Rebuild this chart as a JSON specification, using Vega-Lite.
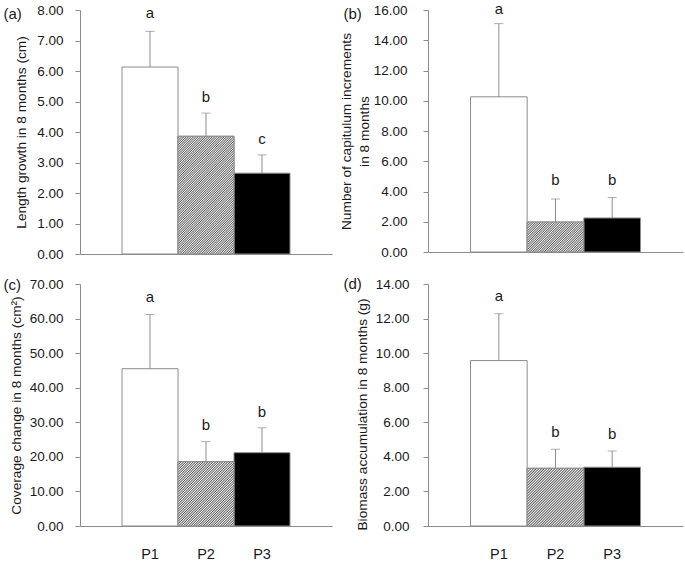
{
 "$schema": "https://vega.github.io/schema/vega-lite/v6.json",
 "padding": {"left": 3, "top": 2, "right": 3, "bottom": 1},
 "config": {
  "font": "Liberation Sans",
  "view": {"stroke": null},
  "axis": {"domainColor": "#8c8c8c", "tickColor": "#8c8c8c", "labelColor": "#1a1a1a", "titleColor": "#1a1a1a", "labelFontSize": 13.5, "titleFontSize": 13.7, "titleFontWeight": "normal", "grid": false, "labelFont": "Liberation Sans", "titleFont": "Liberation Sans"},
  "axisX": {"titleAngle": 0, "titleAlign": "left", "titleBaseline": "middle", "titleFontSize": 15},
  "text": {"font": "Liberation Sans"}
 },
 "columns": 2,
 "spacing": {"row": 15, "column": 7},
 "concat": [
  {
   "width": 252, "height": 244,
   "data": {"values": [
    {"g": "P1", "m": 6.13, "u": 7.30, "lt": "a", "ly": 7.9},
    {"g": "P2", "m": 3.86, "u": 4.62, "lt": "b", "ly": 5.15},
    {"g": "P3", "m": 2.65, "u": 3.25, "lt": "c", "ly": 3.78}
   ]},
   "encoding": {"x": {"field": "g", "type": "nominal", "scale": {"paddingInner": 0, "paddingOuter": 0.75}, "axis": {"labels": false, "ticks": false, "title": "(a)", "titleX": -77, "titleY": -241}}},
   "layer": [
    {"mark": {"type": "bar", "stroke": "#8c8c8c", "strokeWidth": 1},
     "encoding": {"y": {"field": "m", "type": "quantitative", "scale": {"domain": [0, 8]}, "axis": {"title": "Length growth in 8 months (cm)", "format": ".2f", "tickCount": 8, "tickSize": 5, "labelPadding": 12, "titlePadding": 8}},
      "fill": {"field": "g", "type": "nominal", "scale": {"range": ["#ffffff", "#ffffff", "#000000"]}, "legend": null}}},
    {"transform": [{"filter": "datum.g === 'P2'"}],
     "mark": {"type": "bar", "stroke": "#8c8c8c", "strokeWidth": 1, "fill": {"gradient": "linear", "x1": 0, "y1": 0, "x2": 0.573, "y2": 1.203, "stops": [
      {"offset":0,"color":"#555"},{"offset":0.005,"color":"#fff"},{"offset":0.01,"color":"#555"},{"offset":0.015,"color":"#fff"},{"offset":0.02,"color":"#555"},{"offset":0.025,"color":"#fff"},{"offset":0.03,"color":"#555"},{"offset":0.035,"color":"#fff"},{"offset":0.04,"color":"#555"},{"offset":0.045,"color":"#fff"},
      {"offset":0.05,"color":"#555"},{"offset":0.055,"color":"#fff"},{"offset":0.06,"color":"#555"},{"offset":0.065,"color":"#fff"},{"offset":0.07,"color":"#555"},{"offset":0.075,"color":"#fff"},{"offset":0.08,"color":"#555"},{"offset":0.085,"color":"#fff"},{"offset":0.09,"color":"#555"},{"offset":0.095,"color":"#fff"},
      {"offset":0.1,"color":"#555"},{"offset":0.105,"color":"#fff"},{"offset":0.11,"color":"#555"},{"offset":0.115,"color":"#fff"},{"offset":0.12,"color":"#555"},{"offset":0.125,"color":"#fff"},{"offset":0.13,"color":"#555"},{"offset":0.135,"color":"#fff"},{"offset":0.14,"color":"#555"},{"offset":0.145,"color":"#fff"},
      {"offset":0.15,"color":"#555"},{"offset":0.155,"color":"#fff"},{"offset":0.16,"color":"#555"},{"offset":0.165,"color":"#fff"},{"offset":0.17,"color":"#555"},{"offset":0.175,"color":"#fff"},{"offset":0.18,"color":"#555"},{"offset":0.185,"color":"#fff"},{"offset":0.19,"color":"#555"},{"offset":0.195,"color":"#fff"},
      {"offset":0.2,"color":"#555"},{"offset":0.205,"color":"#fff"},{"offset":0.21,"color":"#555"},{"offset":0.215,"color":"#fff"},{"offset":0.22,"color":"#555"},{"offset":0.225,"color":"#fff"},{"offset":0.23,"color":"#555"},{"offset":0.235,"color":"#fff"},{"offset":0.24,"color":"#555"},{"offset":0.245,"color":"#fff"},
      {"offset":0.25,"color":"#555"},{"offset":0.255,"color":"#fff"},{"offset":0.26,"color":"#555"},{"offset":0.265,"color":"#fff"},{"offset":0.27,"color":"#555"},{"offset":0.275,"color":"#fff"},{"offset":0.28,"color":"#555"},{"offset":0.285,"color":"#fff"},{"offset":0.29,"color":"#555"},{"offset":0.295,"color":"#fff"},
      {"offset":0.3,"color":"#555"},{"offset":0.305,"color":"#fff"},{"offset":0.31,"color":"#555"},{"offset":0.315,"color":"#fff"},{"offset":0.32,"color":"#555"},{"offset":0.325,"color":"#fff"},{"offset":0.33,"color":"#555"},{"offset":0.335,"color":"#fff"},{"offset":0.34,"color":"#555"},{"offset":0.345,"color":"#fff"},
      {"offset":0.35,"color":"#555"},{"offset":0.355,"color":"#fff"},{"offset":0.36,"color":"#555"},{"offset":0.365,"color":"#fff"},{"offset":0.37,"color":"#555"},{"offset":0.375,"color":"#fff"},{"offset":0.38,"color":"#555"},{"offset":0.385,"color":"#fff"},{"offset":0.39,"color":"#555"},{"offset":0.395,"color":"#fff"},
      {"offset":0.4,"color":"#555"},{"offset":0.405,"color":"#fff"},{"offset":0.41,"color":"#555"},{"offset":0.415,"color":"#fff"},{"offset":0.42,"color":"#555"},{"offset":0.425,"color":"#fff"},{"offset":0.43,"color":"#555"},{"offset":0.435,"color":"#fff"},{"offset":0.44,"color":"#555"},{"offset":0.445,"color":"#fff"},
      {"offset":0.45,"color":"#555"},{"offset":0.455,"color":"#fff"},{"offset":0.46,"color":"#555"},{"offset":0.465,"color":"#fff"},{"offset":0.47,"color":"#555"},{"offset":0.475,"color":"#fff"},{"offset":0.48,"color":"#555"},{"offset":0.485,"color":"#fff"},{"offset":0.49,"color":"#555"},{"offset":0.495,"color":"#fff"},
      {"offset":0.5,"color":"#555"},{"offset":0.505,"color":"#fff"},{"offset":0.51,"color":"#555"},{"offset":0.515,"color":"#fff"},{"offset":0.52,"color":"#555"},{"offset":0.525,"color":"#fff"},{"offset":0.53,"color":"#555"},{"offset":0.535,"color":"#fff"},{"offset":0.54,"color":"#555"},{"offset":0.545,"color":"#fff"},
      {"offset":0.55,"color":"#555"},{"offset":0.555,"color":"#fff"},{"offset":0.56,"color":"#555"},{"offset":0.565,"color":"#fff"},{"offset":0.57,"color":"#555"},{"offset":0.575,"color":"#fff"},{"offset":0.58,"color":"#555"},{"offset":0.585,"color":"#fff"},{"offset":0.59,"color":"#555"},{"offset":0.595,"color":"#fff"},
      {"offset":0.6,"color":"#555"},{"offset":0.605,"color":"#fff"},{"offset":0.61,"color":"#555"},{"offset":0.615,"color":"#fff"},{"offset":0.62,"color":"#555"},{"offset":0.625,"color":"#fff"},{"offset":0.63,"color":"#555"},{"offset":0.635,"color":"#fff"},{"offset":0.64,"color":"#555"},{"offset":0.645,"color":"#fff"},
      {"offset":0.65,"color":"#555"},{"offset":0.655,"color":"#fff"},{"offset":0.66,"color":"#555"},{"offset":0.665,"color":"#fff"},{"offset":0.67,"color":"#555"},{"offset":0.675,"color":"#fff"},{"offset":0.68,"color":"#555"},{"offset":0.685,"color":"#fff"},{"offset":0.69,"color":"#555"},{"offset":0.695,"color":"#fff"},
      {"offset":0.7,"color":"#555"},{"offset":0.705,"color":"#fff"},{"offset":0.71,"color":"#555"},{"offset":0.715,"color":"#fff"},{"offset":0.72,"color":"#555"},{"offset":0.725,"color":"#fff"},{"offset":0.73,"color":"#555"},{"offset":0.735,"color":"#fff"},{"offset":0.74,"color":"#555"},{"offset":0.745,"color":"#fff"},
      {"offset":0.75,"color":"#555"},{"offset":0.755,"color":"#fff"},{"offset":0.76,"color":"#555"},{"offset":0.765,"color":"#fff"},{"offset":0.77,"color":"#555"},{"offset":0.775,"color":"#fff"},{"offset":0.78,"color":"#555"},{"offset":0.785,"color":"#fff"},{"offset":0.79,"color":"#555"},{"offset":0.795,"color":"#fff"},
      {"offset":0.8,"color":"#555"},{"offset":0.805,"color":"#fff"},{"offset":0.81,"color":"#555"},{"offset":0.815,"color":"#fff"},{"offset":0.82,"color":"#555"},{"offset":0.825,"color":"#fff"},{"offset":0.83,"color":"#555"},{"offset":0.835,"color":"#fff"},{"offset":0.84,"color":"#555"},{"offset":0.845,"color":"#fff"},
      {"offset":0.85,"color":"#555"},{"offset":0.855,"color":"#fff"},{"offset":0.86,"color":"#555"},{"offset":0.865,"color":"#fff"},{"offset":0.87,"color":"#555"},{"offset":0.875,"color":"#fff"},{"offset":0.88,"color":"#555"},{"offset":0.885,"color":"#fff"},{"offset":0.89,"color":"#555"},{"offset":0.895,"color":"#fff"},
      {"offset":0.9,"color":"#555"},{"offset":0.905,"color":"#fff"},{"offset":0.91,"color":"#555"},{"offset":0.915,"color":"#fff"},{"offset":0.92,"color":"#555"},{"offset":0.925,"color":"#fff"},{"offset":0.93,"color":"#555"},{"offset":0.935,"color":"#fff"},{"offset":0.94,"color":"#555"},{"offset":0.945,"color":"#fff"},
      {"offset":0.95,"color":"#555"},{"offset":0.955,"color":"#fff"},{"offset":0.96,"color":"#555"},{"offset":0.965,"color":"#fff"},{"offset":0.97,"color":"#555"},{"offset":0.975,"color":"#fff"},{"offset":0.98,"color":"#555"},{"offset":0.985,"color":"#fff"},{"offset":0.99,"color":"#555"},{"offset":0.995,"color":"#fff"},{"offset":1,"color":"#555"}
     ]}},
     "encoding": {"y": {"field": "m", "type": "quantitative"}}},
    {"mark": {"type": "rule", "color": "#8c8c8c"}, "encoding": {"y": {"field": "m", "type": "quantitative"}, "y2": {"field": "u"}}},
    {"mark": {"type": "tick", "color": "#8c8c8c", "size": 9, "thickness": 1}, "encoding": {"y": {"field": "u", "type": "quantitative"}}},
    {"mark": {"type": "text", "fontSize": 15, "baseline": "middle", "color": "#1a1a1a"}, "encoding": {"y": {"field": "ly", "type": "quantitative"}, "text": {"field": "lt"}}}
   ]
  },
  {
   "width": 255, "height": 242,
   "data": {"values": [
    {"g": "P1", "m": 10.26, "u": 15.10, "lt": "a", "ly": 16.06},
    {"g": "P2", "m": 1.98, "u": 3.50, "lt": "b", "ly": 4.74},
    {"g": "P3", "m": 2.25, "u": 3.60, "lt": "b", "ly": 4.74}
   ]},
   "encoding": {"x": {"field": "g", "type": "nominal", "scale": {"paddingInner": 0, "paddingOuter": 0.75}, "axis": {"labels": false, "ticks": false, "title": "(b)", "titleX": -85, "titleY": -239}}},
   "layer": [
    {"mark": {"type": "bar", "stroke": "#8c8c8c", "strokeWidth": 1},
     "encoding": {"y": {"field": "m", "type": "quantitative", "scale": {"domain": [0, 16]}, "axis": {"title": ["Number of capitulum increments", "in 8 months"], "titleLineHeight": 18, "format": ".2f", "tickCount": 8, "tickSize": 5, "labelPadding": 16, "titlePadding": 2}},
      "fill": {"field": "g", "type": "nominal", "scale": {"range": ["#ffffff", "#ffffff", "#000000"]}, "legend": null}}},
    {"transform": [{"filter": "datum.g === 'P2'"}],
     "mark": {"type": "bar", "stroke": "#8c8c8c", "strokeWidth": 1, "fill": {"gradient": "linear", "x1": 0, "y1": 0, "x2": 1.195, "y2": 0.63, "stops": [
      {"offset":0,"color":"#555"},{"offset":0.01,"color":"#fff"},{"offset":0.02,"color":"#555"},{"offset":0.03,"color":"#fff"},{"offset":0.04,"color":"#555"},{"offset":0.05,"color":"#fff"},{"offset":0.06,"color":"#555"},{"offset":0.07,"color":"#fff"},{"offset":0.08,"color":"#555"},{"offset":0.09,"color":"#fff"},
      {"offset":0.1,"color":"#555"},{"offset":0.11,"color":"#fff"},{"offset":0.12,"color":"#555"},{"offset":0.13,"color":"#fff"},{"offset":0.14,"color":"#555"},{"offset":0.15,"color":"#fff"},{"offset":0.16,"color":"#555"},{"offset":0.17,"color":"#fff"},{"offset":0.18,"color":"#555"},{"offset":0.19,"color":"#fff"},
      {"offset":0.2,"color":"#555"},{"offset":0.21,"color":"#fff"},{"offset":0.22,"color":"#555"},{"offset":0.23,"color":"#fff"},{"offset":0.24,"color":"#555"},{"offset":0.25,"color":"#fff"},{"offset":0.26,"color":"#555"},{"offset":0.27,"color":"#fff"},{"offset":0.28,"color":"#555"},{"offset":0.29,"color":"#fff"},
      {"offset":0.3,"color":"#555"},{"offset":0.31,"color":"#fff"},{"offset":0.32,"color":"#555"},{"offset":0.33,"color":"#fff"},{"offset":0.34,"color":"#555"},{"offset":0.35,"color":"#fff"},{"offset":0.36,"color":"#555"},{"offset":0.37,"color":"#fff"},{"offset":0.38,"color":"#555"},{"offset":0.39,"color":"#fff"},
      {"offset":0.4,"color":"#555"},{"offset":0.41,"color":"#fff"},{"offset":0.42,"color":"#555"},{"offset":0.43,"color":"#fff"},{"offset":0.44,"color":"#555"},{"offset":0.45,"color":"#fff"},{"offset":0.46,"color":"#555"},{"offset":0.47,"color":"#fff"},{"offset":0.48,"color":"#555"},{"offset":0.49,"color":"#fff"},
      {"offset":0.5,"color":"#555"},{"offset":0.51,"color":"#fff"},{"offset":0.52,"color":"#555"},{"offset":0.53,"color":"#fff"},{"offset":0.54,"color":"#555"},{"offset":0.55,"color":"#fff"},{"offset":0.56,"color":"#555"},{"offset":0.57,"color":"#fff"},{"offset":0.58,"color":"#555"},{"offset":0.59,"color":"#fff"},
      {"offset":0.6,"color":"#555"},{"offset":0.61,"color":"#fff"},{"offset":0.62,"color":"#555"},{"offset":0.63,"color":"#fff"},{"offset":0.64,"color":"#555"},{"offset":0.65,"color":"#fff"},{"offset":0.66,"color":"#555"},{"offset":0.67,"color":"#fff"},{"offset":0.68,"color":"#555"},{"offset":0.69,"color":"#fff"},
      {"offset":0.7,"color":"#555"},{"offset":0.71,"color":"#fff"},{"offset":0.72,"color":"#555"},{"offset":0.73,"color":"#fff"},{"offset":0.74,"color":"#555"},{"offset":0.75,"color":"#fff"},{"offset":0.76,"color":"#555"},{"offset":0.77,"color":"#fff"},{"offset":0.78,"color":"#555"},{"offset":0.79,"color":"#fff"},
      {"offset":0.8,"color":"#555"},{"offset":0.81,"color":"#fff"},{"offset":0.82,"color":"#555"},{"offset":0.83,"color":"#fff"},{"offset":0.84,"color":"#555"},{"offset":0.85,"color":"#fff"},{"offset":0.86,"color":"#555"},{"offset":0.87,"color":"#fff"},{"offset":0.88,"color":"#555"},{"offset":0.89,"color":"#fff"},
      {"offset":0.9,"color":"#555"},{"offset":0.91,"color":"#fff"},{"offset":0.92,"color":"#555"},{"offset":0.93,"color":"#fff"},{"offset":0.94,"color":"#555"},{"offset":0.95,"color":"#fff"},{"offset":0.96,"color":"#555"},{"offset":0.97,"color":"#fff"},{"offset":0.98,"color":"#555"},{"offset":0.99,"color":"#fff"},{"offset":1,"color":"#555"}
     ]}},
     "encoding": {"y": {"field": "m", "type": "quantitative"}}},
    {"mark": {"type": "rule", "color": "#8c8c8c"}, "encoding": {"y": {"field": "m", "type": "quantitative"}, "y2": {"field": "u"}}},
    {"mark": {"type": "tick", "color": "#8c8c8c", "size": 9, "thickness": 1}, "encoding": {"y": {"field": "u", "type": "quantitative"}}},
    {"mark": {"type": "text", "fontSize": 15, "baseline": "middle", "color": "#1a1a1a"}, "encoding": {"y": {"field": "ly", "type": "quantitative"}, "text": {"field": "lt"}}}
   ]
  },
  {
   "width": 252, "height": 242,
   "data": {"values": [
    {"g": "P1", "m": 45.5, "u": 61.2, "lt": "a", "ly": 66.3},
    {"g": "P2", "m": 18.6, "u": 24.4, "lt": "b", "ly": 29.2},
    {"g": "P3", "m": 21.2, "u": 28.4, "lt": "b", "ly": 33.0}
   ]},
   "encoding": {"x": {"field": "g", "type": "nominal", "scale": {"paddingInner": 0, "paddingOuter": 0.75}, "axis": {"labels": true, "ticks": false, "labelAngle": 0, "labelFontSize": 14.5, "labelPadding": 21, "title": "(c)", "titleX": -77, "titleY": -242}}},
   "layer": [
    {"mark": {"type": "bar", "stroke": "#8c8c8c", "strokeWidth": 1},
     "encoding": {"y": {"field": "m", "type": "quantitative", "scale": {"domain": [0, 70]}, "axis": {"title": "Coverage change in 8 months (cm²)", "format": ".2f", "tickCount": 7, "tickSize": 5, "labelPadding": 12, "titlePadding": 6}},
      "fill": {"field": "g", "type": "nominal", "scale": {"range": ["#ffffff", "#ffffff", "#000000"]}, "legend": null}}},
    {"transform": [{"filter": "datum.g === 'P2'"}],
     "mark": {"type": "bar", "stroke": "#8c8c8c", "strokeWidth": 1, "fill": {"gradient": "linear", "x1": 0, "y1": 0, "x2": 0.927, "y2": 1.064, "stops": [
      {"offset":0,"color":"#555"},{"offset":0.007,"color":"#fff"},{"offset":0.014,"color":"#555"},{"offset":0.021,"color":"#fff"},{"offset":0.028,"color":"#555"},{"offset":0.035,"color":"#fff"},{"offset":0.042,"color":"#555"},{"offset":0.049,"color":"#fff"},{"offset":0.056,"color":"#555"},{"offset":0.063,"color":"#fff"},
      {"offset":0.07,"color":"#555"},{"offset":0.077,"color":"#fff"},{"offset":0.084,"color":"#555"},{"offset":0.091,"color":"#fff"},{"offset":0.098,"color":"#555"},{"offset":0.105,"color":"#fff"},{"offset":0.112,"color":"#555"},{"offset":0.119,"color":"#fff"},{"offset":0.126,"color":"#555"},{"offset":0.133,"color":"#fff"},
      {"offset":0.14,"color":"#555"},{"offset":0.147,"color":"#fff"},{"offset":0.154,"color":"#555"},{"offset":0.161,"color":"#fff"},{"offset":0.168,"color":"#555"},{"offset":0.175,"color":"#fff"},{"offset":0.182,"color":"#555"},{"offset":0.189,"color":"#fff"},{"offset":0.196,"color":"#555"},{"offset":0.203,"color":"#fff"},
      {"offset":0.21,"color":"#555"},{"offset":0.217,"color":"#fff"},{"offset":0.224,"color":"#555"},{"offset":0.231,"color":"#fff"},{"offset":0.238,"color":"#555"},{"offset":0.245,"color":"#fff"},{"offset":0.252,"color":"#555"},{"offset":0.259,"color":"#fff"},{"offset":0.266,"color":"#555"},{"offset":0.273,"color":"#fff"},
      {"offset":0.28,"color":"#555"},{"offset":0.287,"color":"#fff"},{"offset":0.294,"color":"#555"},{"offset":0.301,"color":"#fff"},{"offset":0.308,"color":"#555"},{"offset":0.315,"color":"#fff"},{"offset":0.322,"color":"#555"},{"offset":0.329,"color":"#fff"},{"offset":0.336,"color":"#555"},{"offset":0.343,"color":"#fff"},
      {"offset":0.35,"color":"#555"},{"offset":0.357,"color":"#fff"},{"offset":0.364,"color":"#555"},{"offset":0.371,"color":"#fff"},{"offset":0.378,"color":"#555"},{"offset":0.385,"color":"#fff"},{"offset":0.392,"color":"#555"},{"offset":0.399,"color":"#fff"},{"offset":0.406,"color":"#555"},{"offset":0.413,"color":"#fff"},
      {"offset":0.42,"color":"#555"},{"offset":0.427,"color":"#fff"},{"offset":0.434,"color":"#555"},{"offset":0.441,"color":"#fff"},{"offset":0.448,"color":"#555"},{"offset":0.455,"color":"#fff"},{"offset":0.462,"color":"#555"},{"offset":0.469,"color":"#fff"},{"offset":0.476,"color":"#555"},{"offset":0.483,"color":"#fff"},
      {"offset":0.49,"color":"#555"},{"offset":0.497,"color":"#fff"},{"offset":0.504,"color":"#555"},{"offset":0.511,"color":"#fff"},{"offset":0.518,"color":"#555"},{"offset":0.525,"color":"#fff"},{"offset":0.532,"color":"#555"},{"offset":0.539,"color":"#fff"},{"offset":0.546,"color":"#555"},{"offset":0.553,"color":"#fff"},
      {"offset":0.56,"color":"#555"},{"offset":0.567,"color":"#fff"},{"offset":0.574,"color":"#555"},{"offset":0.581,"color":"#fff"},{"offset":0.588,"color":"#555"},{"offset":0.595,"color":"#fff"},{"offset":0.602,"color":"#555"},{"offset":0.609,"color":"#fff"},{"offset":0.616,"color":"#555"},{"offset":0.623,"color":"#fff"},
      {"offset":0.63,"color":"#555"},{"offset":0.637,"color":"#fff"},{"offset":0.644,"color":"#555"},{"offset":0.651,"color":"#fff"},{"offset":0.658,"color":"#555"},{"offset":0.665,"color":"#fff"},{"offset":0.672,"color":"#555"},{"offset":0.679,"color":"#fff"},{"offset":0.686,"color":"#555"},{"offset":0.693,"color":"#fff"},
      {"offset":0.7,"color":"#555"},{"offset":0.707,"color":"#fff"},{"offset":0.714,"color":"#555"},{"offset":0.721,"color":"#fff"},{"offset":0.728,"color":"#555"},{"offset":0.735,"color":"#fff"},{"offset":0.742,"color":"#555"},{"offset":0.749,"color":"#fff"},{"offset":0.756,"color":"#555"},{"offset":0.763,"color":"#fff"},
      {"offset":0.77,"color":"#555"},{"offset":0.777,"color":"#fff"},{"offset":0.784,"color":"#555"},{"offset":0.791,"color":"#fff"},{"offset":0.798,"color":"#555"},{"offset":0.805,"color":"#fff"},{"offset":0.812,"color":"#555"},{"offset":0.819,"color":"#fff"},{"offset":0.826,"color":"#555"},{"offset":0.833,"color":"#fff"},
      {"offset":0.84,"color":"#555"},{"offset":0.847,"color":"#fff"},{"offset":0.854,"color":"#555"},{"offset":0.861,"color":"#fff"},{"offset":0.868,"color":"#555"},{"offset":0.875,"color":"#fff"},{"offset":0.882,"color":"#555"},{"offset":0.889,"color":"#fff"},{"offset":0.896,"color":"#555"},{"offset":0.903,"color":"#fff"},
      {"offset":0.91,"color":"#555"},{"offset":0.917,"color":"#fff"},{"offset":0.924,"color":"#555"},{"offset":0.931,"color":"#fff"},{"offset":0.938,"color":"#555"},{"offset":0.945,"color":"#fff"},{"offset":0.952,"color":"#555"},{"offset":0.959,"color":"#fff"},{"offset":0.966,"color":"#555"},{"offset":0.973,"color":"#fff"},
      {"offset":0.98,"color":"#555"},{"offset":0.987,"color":"#fff"},{"offset":0.994,"color":"#555"},{"offset":1,"color":"#fff"}
     ]}},
     "encoding": {"y": {"field": "m", "type": "quantitative"}}},
    {"mark": {"type": "rule", "color": "#8c8c8c"}, "encoding": {"y": {"field": "m", "type": "quantitative"}, "y2": {"field": "u"}}},
    {"mark": {"type": "tick", "color": "#8c8c8c", "size": 9, "thickness": 1}, "encoding": {"y": {"field": "u", "type": "quantitative"}}},
    {"mark": {"type": "text", "fontSize": 15, "baseline": "middle", "color": "#1a1a1a"}, "encoding": {"y": {"field": "ly", "type": "quantitative"}, "text": {"field": "lt"}}}
   ]
  },
  {
   "width": 255, "height": 242,
   "data": {"values": [
    {"g": "P1", "m": 9.57, "u": 12.28, "lt": "a", "ly": 13.3},
    {"g": "P2", "m": 3.34, "u": 4.44, "lt": "b", "ly": 5.43},
    {"g": "P3", "m": 3.40, "u": 4.34, "lt": "b", "ly": 5.34}
   ]},
   "encoding": {"x": {"field": "g", "type": "nominal", "scale": {"paddingInner": 0, "paddingOuter": 0.75}, "axis": {"labels": true, "ticks": false, "labelAngle": 0, "labelFontSize": 14.5, "labelPadding": 21, "title": "(d)", "titleX": -85, "titleY": -243}}},
   "layer": [
    {"mark": {"type": "bar", "stroke": "#8c8c8c", "strokeWidth": 1},
     "encoding": {"y": {"field": "m", "type": "quantitative", "scale": {"domain": [0, 14]}, "axis": {"title": "Biomass accumulation in 8 months (g)", "format": ".2f", "tickCount": 7, "tickSize": 5, "labelPadding": 14, "titlePadding": 6, "titleY": 130}},
      "fill": {"field": "g", "type": "nominal", "scale": {"range": ["#ffffff", "#ffffff", "#000000"]}, "legend": null}}},
    {"transform": [{"filter": "datum.g === 'P2'"}],
     "mark": {"type": "bar", "stroke": "#8c8c8c", "strokeWidth": 1, "fill": {"gradient": "linear", "x1": 0, "y1": 0, "x2": 0.991, "y2": 1.009, "stops": [
      {"offset":0,"color":"#555"},{"offset":0.007,"color":"#fff"},{"offset":0.014,"color":"#555"},{"offset":0.021,"color":"#fff"},{"offset":0.028,"color":"#555"},{"offset":0.035,"color":"#fff"},{"offset":0.042,"color":"#555"},{"offset":0.049,"color":"#fff"},{"offset":0.056,"color":"#555"},{"offset":0.063,"color":"#fff"},
      {"offset":0.07,"color":"#555"},{"offset":0.077,"color":"#fff"},{"offset":0.084,"color":"#555"},{"offset":0.091,"color":"#fff"},{"offset":0.098,"color":"#555"},{"offset":0.105,"color":"#fff"},{"offset":0.112,"color":"#555"},{"offset":0.119,"color":"#fff"},{"offset":0.126,"color":"#555"},{"offset":0.133,"color":"#fff"},
      {"offset":0.14,"color":"#555"},{"offset":0.147,"color":"#fff"},{"offset":0.154,"color":"#555"},{"offset":0.161,"color":"#fff"},{"offset":0.168,"color":"#555"},{"offset":0.175,"color":"#fff"},{"offset":0.182,"color":"#555"},{"offset":0.189,"color":"#fff"},{"offset":0.196,"color":"#555"},{"offset":0.203,"color":"#fff"},
      {"offset":0.21,"color":"#555"},{"offset":0.217,"color":"#fff"},{"offset":0.224,"color":"#555"},{"offset":0.231,"color":"#fff"},{"offset":0.238,"color":"#555"},{"offset":0.245,"color":"#fff"},{"offset":0.252,"color":"#555"},{"offset":0.259,"color":"#fff"},{"offset":0.266,"color":"#555"},{"offset":0.273,"color":"#fff"},
      {"offset":0.28,"color":"#555"},{"offset":0.287,"color":"#fff"},{"offset":0.294,"color":"#555"},{"offset":0.301,"color":"#fff"},{"offset":0.308,"color":"#555"},{"offset":0.315,"color":"#fff"},{"offset":0.322,"color":"#555"},{"offset":0.329,"color":"#fff"},{"offset":0.336,"color":"#555"},{"offset":0.343,"color":"#fff"},
      {"offset":0.35,"color":"#555"},{"offset":0.357,"color":"#fff"},{"offset":0.364,"color":"#555"},{"offset":0.371,"color":"#fff"},{"offset":0.378,"color":"#555"},{"offset":0.385,"color":"#fff"},{"offset":0.392,"color":"#555"},{"offset":0.399,"color":"#fff"},{"offset":0.406,"color":"#555"},{"offset":0.413,"color":"#fff"},
      {"offset":0.42,"color":"#555"},{"offset":0.427,"color":"#fff"},{"offset":0.434,"color":"#555"},{"offset":0.441,"color":"#fff"},{"offset":0.448,"color":"#555"},{"offset":0.455,"color":"#fff"},{"offset":0.462,"color":"#555"},{"offset":0.469,"color":"#fff"},{"offset":0.476,"color":"#555"},{"offset":0.483,"color":"#fff"},
      {"offset":0.49,"color":"#555"},{"offset":0.497,"color":"#fff"},{"offset":0.504,"color":"#555"},{"offset":0.511,"color":"#fff"},{"offset":0.518,"color":"#555"},{"offset":0.525,"color":"#fff"},{"offset":0.532,"color":"#555"},{"offset":0.539,"color":"#fff"},{"offset":0.546,"color":"#555"},{"offset":0.553,"color":"#fff"},
      {"offset":0.56,"color":"#555"},{"offset":0.567,"color":"#fff"},{"offset":0.574,"color":"#555"},{"offset":0.581,"color":"#fff"},{"offset":0.588,"color":"#555"},{"offset":0.595,"color":"#fff"},{"offset":0.602,"color":"#555"},{"offset":0.609,"color":"#fff"},{"offset":0.616,"color":"#555"},{"offset":0.623,"color":"#fff"},
      {"offset":0.63,"color":"#555"},{"offset":0.637,"color":"#fff"},{"offset":0.644,"color":"#555"},{"offset":0.651,"color":"#fff"},{"offset":0.658,"color":"#555"},{"offset":0.665,"color":"#fff"},{"offset":0.672,"color":"#555"},{"offset":0.679,"color":"#fff"},{"offset":0.686,"color":"#555"},{"offset":0.693,"color":"#fff"},
      {"offset":0.7,"color":"#555"},{"offset":0.707,"color":"#fff"},{"offset":0.714,"color":"#555"},{"offset":0.721,"color":"#fff"},{"offset":0.728,"color":"#555"},{"offset":0.735,"color":"#fff"},{"offset":0.742,"color":"#555"},{"offset":0.749,"color":"#fff"},{"offset":0.756,"color":"#555"},{"offset":0.763,"color":"#fff"},
      {"offset":0.77,"color":"#555"},{"offset":0.777,"color":"#fff"},{"offset":0.784,"color":"#555"},{"offset":0.791,"color":"#fff"},{"offset":0.798,"color":"#555"},{"offset":0.805,"color":"#fff"},{"offset":0.812,"color":"#555"},{"offset":0.819,"color":"#fff"},{"offset":0.826,"color":"#555"},{"offset":0.833,"color":"#fff"},
      {"offset":0.84,"color":"#555"},{"offset":0.847,"color":"#fff"},{"offset":0.854,"color":"#555"},{"offset":0.861,"color":"#fff"},{"offset":0.868,"color":"#555"},{"offset":0.875,"color":"#fff"},{"offset":0.882,"color":"#555"},{"offset":0.889,"color":"#fff"},{"offset":0.896,"color":"#555"},{"offset":0.903,"color":"#fff"},
      {"offset":0.91,"color":"#555"},{"offset":0.917,"color":"#fff"},{"offset":0.924,"color":"#555"},{"offset":0.931,"color":"#fff"},{"offset":0.938,"color":"#555"},{"offset":0.945,"color":"#fff"},{"offset":0.952,"color":"#555"},{"offset":0.959,"color":"#fff"},{"offset":0.966,"color":"#555"},{"offset":0.973,"color":"#fff"},
      {"offset":0.98,"color":"#555"},{"offset":0.987,"color":"#fff"},{"offset":0.994,"color":"#555"},{"offset":1,"color":"#fff"}
     ]}},
     "encoding": {"y": {"field": "m", "type": "quantitative"}}},
    {"mark": {"type": "rule", "color": "#8c8c8c"}, "encoding": {"y": {"field": "m", "type": "quantitative"}, "y2": {"field": "u"}}},
    {"mark": {"type": "tick", "color": "#8c8c8c", "size": 9, "thickness": 1}, "encoding": {"y": {"field": "u", "type": "quantitative"}}},
    {"mark": {"type": "text", "fontSize": 15, "baseline": "middle", "color": "#1a1a1a"}, "encoding": {"y": {"field": "ly", "type": "quantitative"}, "text": {"field": "lt"}}}
   ]
  }
 ]
}
